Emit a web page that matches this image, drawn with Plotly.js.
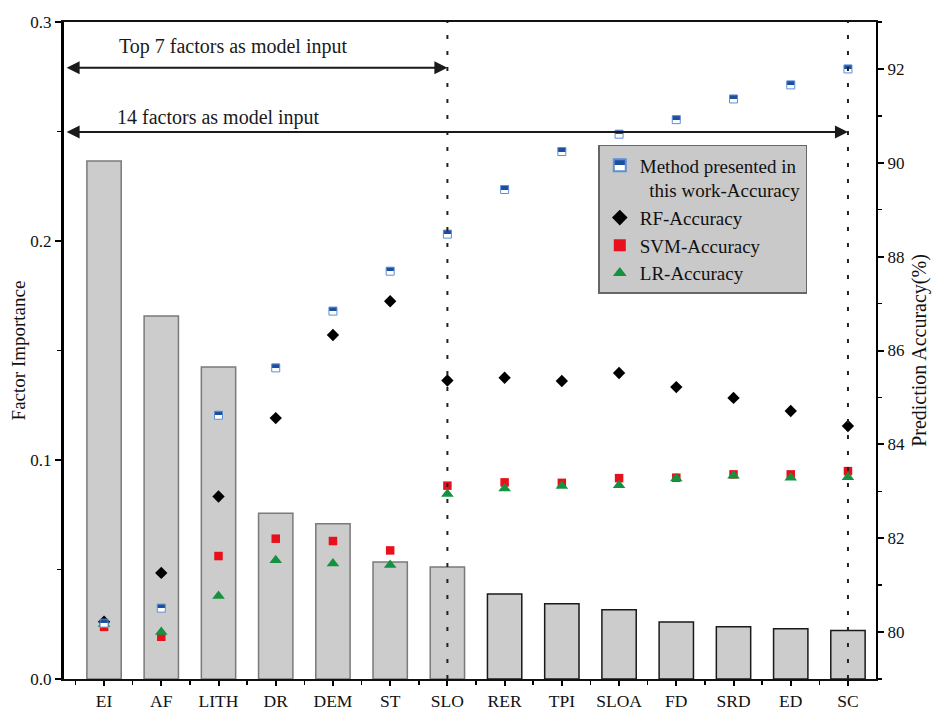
<!DOCTYPE html>
<html>
<head>
<meta charset="utf-8">
<script src="https://cdn.plot.ly/plotly-3.0.1.min.js"></script>
<style>html,body{margin:0;padding:0;background:#fff;}#chart{width:941px;height:711px;}</style>
</head>
<body>
<div id="chart"></div>
<script>
// ---- data ----
const factors = ["EI","AF","LITH","DR","DEM","ST","SLO","RER","TPI","SLOA","FD","SRD","ED","SC"];
const importance = [0.2365,0.1658,0.1425,0.0757,0.0709,0.0534,0.0511,0.0388,0.0344,0.0316,0.0260,0.0239,0.0229,0.0221];
const accMethod = [80.19,80.51,84.62,85.63,86.84,87.69,88.48,89.43,90.24,90.61,90.92,91.36,91.66,92.00];
const accRF     = [80.22,81.26,82.89,84.56,86.33,87.05,85.36,85.42,85.35,85.52,85.22,84.99,84.71,84.39];
const accSVM    = [80.11,79.90,81.62,81.99,81.94,81.74,83.12,83.19,83.18,83.28,83.29,83.36,83.36,83.43];
const accLR     = [80.17,80.00,80.77,81.53,81.46,81.43,82.94,83.06,83.11,83.13,83.27,83.33,83.29,83.30];
const leftTicks = [0, 0.1, 0.2, 0.3];
const rightTicks = [80, 82, 84, 86, 88, 90, 92];

const idx = factors.map((_, i) => i);
const FONT = "Liberation Serif, Times New Roman, serif";
const BLUE = "#1d4f9f";

const barLine = idx.map(i => i < 7 ? "#7a7a7a" : "#1a1a1a");

const traces = [
  {type:"bar", x: idx, y: importance, width: 0.6, yaxis:"y",
   marker:{color:"#cccccc", line:{color: barLine, width:1.5}}, showlegend:false, hoverinfo:"skip"},
  {type:"scatter", mode:"markers", x: idx, y: accSVM, yaxis:"y2", name:"SVM-Accuracy", legendrank:3,
   marker:{symbol:"square", size:8.5, color:"#e8101c"}},
  {type:"scatter", mode:"markers", x: idx, y: accLR, yaxis:"y2", name:"LR-Accuracy", legendrank:4,
   marker:{symbol:"triangle-up", size:11, color:"#149240"}},
  {type:"scatter", mode:"markers", x: idx, y: accRF, yaxis:"y2", name:"RF-Accuracy", legendrank:2,
   marker:{symbol:"diamond", size:9.5, color:"#000000"}},
  {type:"scatter", mode:"markers", x: idx, y: accMethod, yaxis:"y2",
   name:"Method presented in<br>\u00a0\u00a0this work-Accuracy", legendrank:1,
   marker:{symbol:"square", size:8, color:BLUE, gradient:{type:"vertical", color:"#ffffff"},
           line:{color:"#5d8fd6", width:1}}}
];

const sepIdx = [6, 13];
const shapes = sepIdx.map(i => ({type:"line", xref:"x", yref:"paper", x0:i, x1:i, y0:0, y1:1,
  line:{color:"#222", width:2, dash:"4px,12px"}, layer:"above"}));

const annotations = [
  {xref:"x", yref:"y", x: 6, y: 0.2791, axref:"x", ayref:"y", ax: -0.68, ay: 0.2791, text:"",
   showarrow:true, arrowside:"end+start", arrowhead:2, arrowsize:1.3, arrowwidth:2, arrowcolor:"#1a1a1a"},
  {xref:"x", yref:"y", x: 13, y: 0.2498, axref:"x", ayref:"y", ax: -0.68, ay: 0.2498, text:"",
   showarrow:true, arrowside:"end+start", arrowhead:2, arrowsize:1.3, arrowwidth:2, arrowcolor:"#1a1a1a"},
  {xref:"x", yref:"y", x: 0.22, y: 0.2886, xanchor:"left", yanchor:"middle", showarrow:false,
   text:"Top 7 factors as model input", font:{family:FONT, size:20, color:"#1a1a1a"}},
  {xref:"x", yref:"y", x: 0.19, y: 0.2566, xanchor:"left", yanchor:"middle", showarrow:false,
   text:"14 factors as model input", font:{family:FONT, size:20, color:"#1a1a1a"}}
];

const layout = {
  width: 941, height: 711,
  margin: {l:64, r:65, t:22, b:32},
  paper_bgcolor:"#fff", plot_bgcolor:"#fff",
  font: {family: FONT, size: 17, color:"#111"},
  bargap: 0.4,
  xaxis: {range:[-0.70, 13.49], tickmode:"array", tickvals: idx, ticktext: factors,
    ticks:"outside", ticklen:5, tickwidth:2, tickcolor:"#000",
    showline:true, linecolor:"#111", linewidth:2, mirror:true,
    showgrid:false, zeroline:false, tickfont:{family:FONT, size:17.5, color:"#111"},
    minor:{tickmode:"array", tickvals: idx.map(i => i - 0.5), ticks:"outside", ticklen:4, tickwidth:1.5, tickcolor:"#000", showgrid:false}},
  yaxis: {range:[0, 0.3], tickmode:"array", tickvals: leftTicks, tickformat:".1f",
    ticks:"outside", ticklen:6, tickwidth:2, tickcolor:"#000",
    showline:true, linecolor:"#000", linewidth:3,
    showgrid:false, zeroline:false, tickfont:{family:FONT, size:17, color:"#111"},
    minor:{dtick:0.05, ticks:"outside", ticklen:4, tickwidth:1.5, tickcolor:"#000", showgrid:false},
    title:{text:"Factor Importance", font:{family:FONT, size:19, color:"#111"}, standoff:0}},
  yaxis2: {overlaying:"y", side:"right", range:[79, 93], tickmode:"array", tickvals: rightTicks,
    ticks:"outside", ticklen:6, tickwidth:2, tickcolor:"#000",
    showline:true, linecolor:"#000", linewidth:2,
    showgrid:false, zeroline:false, tickfont:{family:FONT, size:17, color:"#111"},
    minor:{tick0:79, dtick:1, ticks:"outside", ticklen:4, tickwidth:1.5, tickcolor:"#000", showgrid:false},
    title:{text:"Prediction Accuracy(%)", font:{family:FONT, size:20, color:"#111"}, standoff:8}},
  legend: {x:0.658, y:0.813, xanchor:"left", yanchor:"top", bgcolor:"#c9c9c9", bordercolor:"#666",
    borderwidth:1.5, font:{family:FONT, size:19, color:"#111"}, itemsizing:"constant", valign:"top",
    traceorder:"normal", tracegroupgap:0},
  shapes: shapes,
  annotations: annotations
};

function halfFill(){
  document.querySelectorAll("linearGradient").forEach(g => {
    g.setAttribute("x1","0"); g.setAttribute("y1","0"); g.setAttribute("x2","0"); g.setAttribute("y2","1");
    while (g.firstChild) g.removeChild(g.firstChild);
    [["0%",BLUE],["52%",BLUE],["52%","#ffffff"],["100%","#ffffff"]].forEach(([o,c]) => {
      const s = document.createElementNS("http://www.w3.org/2000/svg","stop");
      s.setAttribute("offset", o); s.setAttribute("stop-color", c); s.setAttribute("stop-opacity","1");
      g.appendChild(s);
    });
  });
}

const gd = document.getElementById("chart");
Plotly.newPlot(gd, traces, layout, {displayModeBar:false, staticPlot:true}).then(() => {
  halfFill();
  gd.on && gd.on("plotly_afterplot", halfFill);
});
</script>
</body>
</html>
